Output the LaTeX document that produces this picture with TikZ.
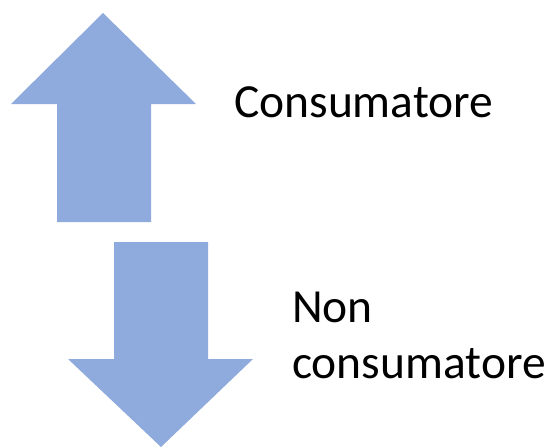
\documentclass[tikz,border=0pt]{standalone}
\usepackage{fontspec}
\setmainfont{Carlito}
\definecolor{arrowblue}{HTML}{8FAADC}
\begin{document}
\begin{tikzpicture}[x=1pt,y=-1pt,
  bigarrow/.style={fill=arrowblue,draw=none},
  lbl/.style={anchor=base west,inner sep=0pt,font=\fontsize{47.5}{58}\selectfont}]
\useasboundingbox (0,0) rectangle (550,447);
% up arrow
\fill[bigarrow] (103,13) -- (196,104) -- (151,104) -- (151,222) -- (57,222) -- (57,104) -- (11,104) -- cycle;
% down arrow
\fill[bigarrow] (114,242) -- (208,242) -- (208,359) -- (253,359) -- (161,447) -- (68,359) -- (114,359) -- cycle;
\node[lbl] (c) at (234,117) {Consumatore};
\node[lbl] (n) at (292,322) {Non};
\node[lbl] (nc) at (292,378) {consumatore};
\end{tikzpicture}
\end{document}
